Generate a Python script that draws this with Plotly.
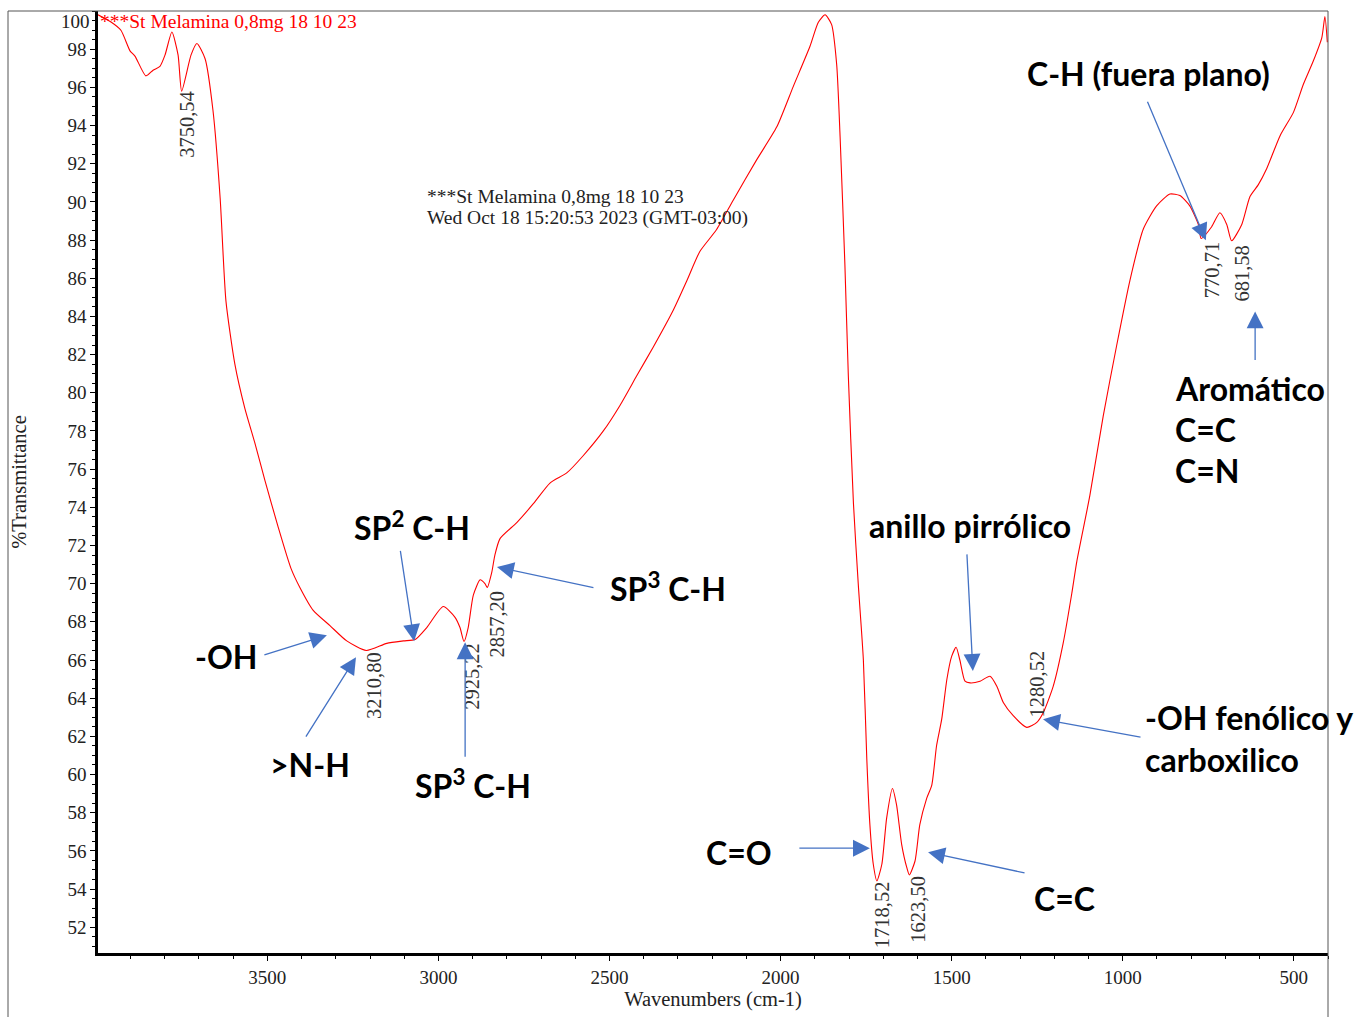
import plotly.graph_objects as go

# ---------------- data ----------------
wavenumber = [3995, 3957, 3928, 3901, 3887, 3855, 3834, 3814, 3799, 3779, 3761, 3750.5,
              3723, 3706, 3682, 3659, 3638, 3621, 3595, 3566, 3537, 3507, 3469, 3431,
              3405, 3366, 3317, 3268, 3210.8, 3151, 3102, 3068, 3034, 2986, 2952, 2937,
              2925.2, 2913, 2898, 2878, 2864, 2857.2, 2844, 2835, 2820, 2771, 2722, 2674,
              2625, 2577, 2518, 2469, 2420, 2372, 2313, 2274, 2236, 2187, 2138, 2070,
              2011, 1963, 1914, 1890, 1870, 1851, 1836, 1826, 1812, 1802, 1787, 1773,
              1758, 1748, 1739, 1729, 1718.5, 1704, 1690, 1673, 1661, 1646, 1631, 1623.5,
              1607, 1593, 1573, 1558, 1544, 1529, 1514, 1500, 1487, 1476, 1461, 1446,
              1417, 1388, 1368, 1349, 1320, 1280.5, 1251, 1232, 1203, 1174, 1149, 1134,
              1096, 1057, 1018, 979, 940, 901, 862, 833, 804, 779, 770.7, 740,
              716, 696, 681.6, 652, 628, 604, 579, 540, 501, 472, 443, 418, 409, 402]
transmittance = [99.8, 99.42, 98.99, 97.9, 97.64, 96.6, 96.9, 97.1, 97.7, 98.9, 97.7, 95.8,
                 97.7, 98.3, 97.5, 94.8, 90.2, 84.8, 81.5, 79.2, 77.4, 75.4, 73.0, 70.8,
                 69.8, 68.6, 67.8, 67.0, 66.5, 66.87, 67.0, 67.07, 67.7, 68.8, 68.25, 67.7,
                 66.97, 67.7, 69.4, 70.2, 70.0, 69.8, 70.6, 71.5, 72.36, 73.2, 74.2, 75.27,
                 75.8, 76.7, 78.0, 79.35, 80.9, 82.4, 84.35, 85.87, 87.4, 88.55, 90.1, 92.2,
                 93.93, 96.04, 98.15, 99.4, 99.8, 99.3, 97.2, 93.4, 86.7, 80.9, 74.2, 70.0,
                 66.0, 60.83, 57.39, 55.3, 54.43, 55.3, 57.72, 59.27, 58.41, 56.33, 55.12, 54.74,
                 55.47, 57.37, 58.75, 59.45, 61.52, 62.9, 64.98, 66.19, 66.67, 66.0, 64.89, 64.8,
                 64.89, 65.15, 64.63, 63.77, 63.08, 62.47, 62.73, 63.25, 64.63, 66.88, 69.47, 71.18,
                 74.62, 78.78, 82.45, 85.88, 88.57, 89.79, 90.41, 90.33, 89.79, 88.82, 88.08, 88.7,
                 89.43, 88.82, 87.96, 88.82, 90.28, 90.89, 91.75, 93.47, 94.69, 96.16, 97.38, 98.61, 99.71, 98.36]

peak_wn = [3750.54, 3210.80, 2925.22, 2857.20, 1718.52, 1623.50, 1280.52, 770.71, 681.58]
peak_text = ["3750,54", "3210,80", "2925,22", "2857,20", "1718,52", "1623,50", "1280,52", "770,71", "681,58"]
peak_label_y = [95.93, 66.52, 66.98, 69.73, 54.54, 54.8, 62.9, 88.0, 87.8]
peak_label_anchor = ["top", "top", "top", "top", "top", "top", "bottom", "top", "top"]
peak_label_shift = [6, 7, 8, 10, 5, 9, 10, 11, 10]

x_ticks = [3500, 3000, 2500, 2000, 1500, 1000, 500]
y_ticks = list(range(52, 100, 2))

# band assignment arrows: (head wavenumber, head %T, tail offset x px, tail offset y px)
arrows = [
    (3326, 67.29, -64, 20),
    (3241, 66.15, -51, 81),
    (3071, 66.98, -14, -92),
    (2922, 66.93, 0, 116),
    (2829, 70.87, 98, 21),
    (1739, 56.14, -72, 0),
    (1569, 55.93, 98, 21),
    (1438, 65.43, -6, -118),
    (1233, 62.89, 99, 18),
    (757, 87.99, -59, -140),
    (613, 84.26, 0, 50),
]

band_labels = [
    ("-OH", 193, 663),
    (">N-H", 268, 773),
    ("SP<sup>2</sup> C-H", 352, 531),
    ("SP<sup>3</sup> C-H", 608, 593),
    ("SP<sup>3</sup> C-H", 413, 792),
    ("C=O", 704, 861),
    ("C=C", 1032, 908),
    ("anillo pirrólico", 867, 531),
    ("-OH fenólico y", 1143, 725),
    ("carboxilico", 1143, 767),
    ("C-H (fuera plano)", 1025, 74),
    ("Aromático", 1173, 393),
    ("C=C", 1173, 434),
    ("C=N", 1173, 475),
]

# ---------------- layout geometry ----------------
W, H = 1357, 1017
L, R, T, B = 98, 29, 11, 54
PW, PH = W - L - R, H - T - B


def paper(px, py):
    return (px - L) / PW, (H - B - py) / PH


SERIF = "Liberation Serif"
SANS = "Lato"

fig = go.Figure()
fig.add_trace(go.Scatter(x=wavenumber, y=transmittance, mode="lines",
                         line=dict(color="#ff0000", width=1.1, shape="spline", smoothing=0.6),
                         showlegend=False, hoverinfo="x+y"))

ann = []
x0, y0 = paper(98, 22)
ann.append(dict(text="***St Melamina 0,8mg 18 10 23", xref="paper", yref="paper", x=x0, y=y0,
                xanchor="left", yanchor="middle", showarrow=False,
                font=dict(family=SERIF, size=19.5, color="#ff0000")))
for txt, py in [("***St Melamina 0,8mg 18 10 23", 198), ("Wed Oct 18 15:20:53 2023 (GMT-03:00)", 220)]:
    xx, yy = paper(425, py)
    ann.append(dict(text=txt, xref="paper", yref="paper", x=xx, y=yy, xanchor="left",
                    yanchor="middle", showarrow=False,
                    font=dict(family=SERIF, size=19.5, color="#222222")))
ann.append(dict(text="100", xref="paper", yref="y", x=0, y=99.43, xanchor="right", xshift=-6,
                yanchor="middle", showarrow=False, font=dict(family=SERIF, size=19, color="#222222")))
for wn, txt, yy, anc, sh in zip(peak_wn, peak_text, peak_label_y, peak_label_anchor, peak_label_shift):
    ann.append(dict(text=txt, x=wn, y=yy, xref="x", yref="y", textangle=-90, showarrow=False,
                    xanchor="center", yanchor=anc, xshift=sh,
                    font=dict(family=SERIF, size=20.5, color="#333333")))
for hx, hy, ax, ay in arrows:
    ann.append(dict(text="", x=hx, y=hy, xref="x", yref="y", ax=ax, ay=ay, axref="pixel", ayref="pixel",
                    showarrow=True, arrowhead=2, arrowsize=2.6, arrowwidth=1.3, arrowcolor="#4472c4",
                    standoff=0, startstandoff=0))
for txt, px, py in band_labels:
    xx, yy = paper(px, py)
    ann.append(dict(text=txt, xref="paper", yref="paper", x=xx, y=yy, xanchor="left", yanchor="middle",
                    showarrow=False, font=dict(family=SANS, size=32, color="#000000", weight="bold")))

fx0, _ = paper(8, 0)
fig.update_layout(
    width=W, height=H, autosize=False, margin=dict(l=L, r=R, t=T, b=B),
    paper_bgcolor="white", plot_bgcolor="white",
    annotations=ann,
    shapes=[dict(type="rect", xref="paper", yref="paper", x0=fx0, x1=1, y0=-0.2, y1=1,
                 line=dict(color="#555555", width=1), fillcolor="rgba(0,0,0,0)", layer="above")],
    xaxis=dict(range=[3995, 400], tickvals=x_ticks, ticks="outside", ticklen=5, tickwidth=1,
               tickcolor="#000", showline=True, linecolor="#000", linewidth=2.5, showgrid=False,
               zeroline=False, tickfont=dict(family=SERIF, size=19, color="#222"),
               minor=dict(dtick=100, ticks="outside", ticklen=3, tickcolor="#000", showgrid=False),
               title=dict(text="Wavenumbers (cm-1)", font=dict(family=SERIF, size=20.5, color="#222"), standoff=4)),
    yaxis=dict(range=[50.65, 100], tickvals=y_ticks, ticks="outside", ticklen=5, tickwidth=1,
               tickcolor="#000", showline=True, linecolor="#000", linewidth=2.5, showgrid=False,
               zeroline=False, tickfont=dict(family=SERIF, size=19, color="#222"),
               minor=dict(dtick=0.5, ticks="outside", ticklen=3, tickcolor="#000", showgrid=False),
               title=dict(text="%Transmittance", font=dict(family=SERIF, size=20.5, color="#222"), standoff=36)),
)

fig.write_html("out.html", config={"displayModeBar": False, "responsive": False},
               post_script="document.body.style.margin='0px';document.body.style.overflow='hidden';")
